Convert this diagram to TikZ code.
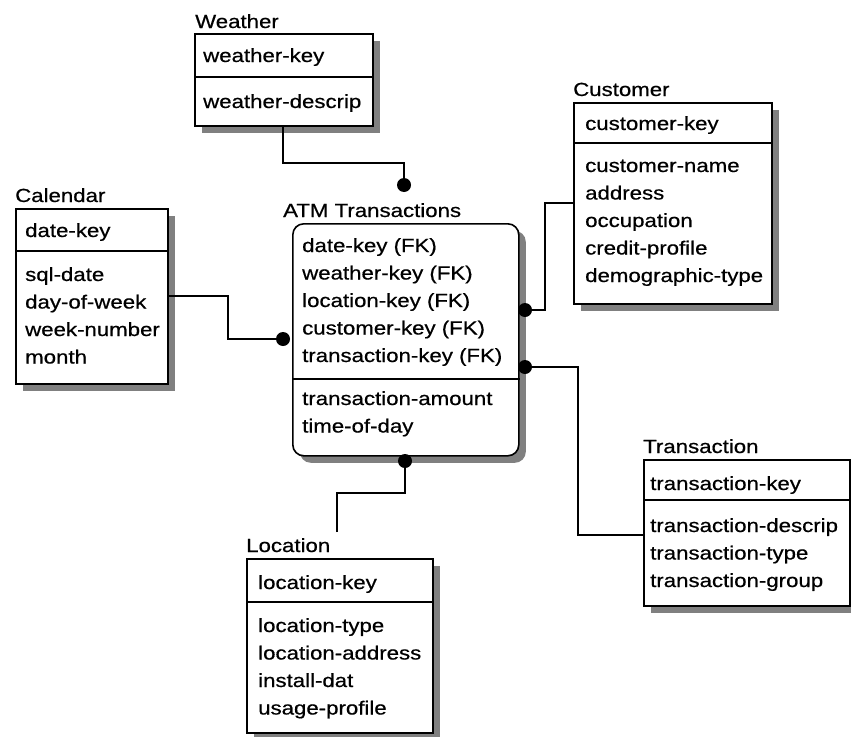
\documentclass[tikz,border=0pt]{standalone}
\usepackage{fontspec}
\setmainfont{Liberation Sans}[FakeStretch=1.17,FakeBold=0.6]
\usetikzlibrary{shadows}
\begin{document}
\begin{tikzpicture}[x=1pt,y=-1pt,font=\fontsize{19}{22}\selectfont]
\tikzstyle{entity}=[draw=black, line width=1.6pt, fill=white, anchor=north west, inner sep=0pt, drop shadow={shadow xshift=7pt, shadow yshift=-7pt, fill=black!50, opacity=1}]
\tikzstyle{etitle}=[anchor=base west, inner sep=0pt]
\tikzstyle{attr}=[anchor=base west, inner sep=0pt]
\tikzstyle{dot}=[circle, fill=black, inner sep=0pt, minimum size=14pt]
\tikzstyle{link}=[line width=1.4pt]
\tikzstyle{divider}=[line width=1.2pt]

\useasboundingbox (0,0) rectangle (851,736);

% Weather
\node[etitle] (weatherT) at (195,28) {Weather};
\node[entity, minimum width=178pt, minimum height=92pt] (weather) at (194,33) {};
\draw[divider] (weather.west |- 0,77) -- (weather.east |- 0,77);
\node[attr] (wkey) at (203,62) {weather-key};
\node[attr] (w0) at (203,108) {weather-descrip};

% Calendar
\node[etitle] (calT) at (15,202) {Calendar};
\node[entity, minimum width=152pt, minimum height=175pt] (cal) at (15,208) {};
\draw[divider] (cal.west |- 0,251) -- (cal.east |- 0,251);
\node[attr] (ckey) at (25,237) {date-key};
\foreach \a [count=\i from 0] in {sql-date,day-of-week,week-number,month}
  \node[attr] (cal\i) at (25,{281+27.5*\i}) {\a};

% ATM Transactions
\node[etitle] (atmT) at (283,217) {ATM Transactions};
\node[entity, rounded corners=11pt, minimum width=226pt, minimum height=232pt] (atm) at (292,223) {};
\draw[divider] (atm.west |- 0,379) -- (atm.east |- 0,379);
\foreach \a [count=\i from 0] in {date-key (FK),weather-key (FK),location-key (FK),customer-key (FK),transaction-key (FK)}
  \node[attr] (atmk\i) at (302,{252+27.5*\i}) {\a};
\foreach \a [count=\i from 0] in {transaction-amount,time-of-day}
  \node[attr] (atm\i) at (302,{405+27.5*\i}) {\a};

% Customer
\node[etitle] (custT) at (573,96) {Customer};
\node[entity, minimum width=198pt, minimum height=201pt] (cust) at (573,102) {};
\draw[divider] (cust.west |- 0,143) -- (cust.east |- 0,143);
\node[attr] (cukey) at (585,130) {customer-key};
\foreach \a [count=\i from 0] in {customer-name,address,occupation,credit-profile,demographic-type}
  \node[attr] (cust\i) at (585,{172+27.5*\i}) {\a};

% Transaction
\node[etitle] (tranT) at (643,453) {Transaction};
\node[entity, minimum width=206pt, minimum height=146pt] (tran) at (643,459) {};
\draw[divider] (tran.west |- 0,500) -- (tran.east |- 0,500);
\node[attr] (tkey) at (650,490) {transaction-key};
\foreach \a [count=\i from 0] in {transaction-descrip,transaction-type,transaction-group}
  \node[attr] (tran\i) at (650,{532+27.5*\i}) {\a};

% Location
\node[etitle] (locT) at (246,552) {Location};
\node[entity, minimum width=186pt, minimum height=174pt] (loc) at (246,558) {};
\draw[divider] (loc.west |- 0,602) -- (loc.east |- 0,602);
\node[attr] (lkey) at (258,589) {location-key};
\foreach \a [count=\i from 0] in {location-type,location-address,install-dat,usage-profile}
  \node[attr] (loc\i) at (258,{632+27.5*\i}) {\a};

% relationship ends
\node[dot] (dW) at (404,185) {};
\node[dot] (dC) at (283,339) {};
\node[dot] (dCu) at (525,310) {};
\node[dot] (dT) at (525,367) {};
\node[dot] (dL) at (405,461) {};

\coordinate (wOut) at (283,125);
\coordinate (cOut) at (167,296);
\coordinate (cuOut) at (573,203);
\coordinate (tOut) at (643,535);
\coordinate (lOut) at (337,532);

\draw[link] (wOut) -- ++(0,38) -| (dW.center);
\draw[link] (cOut) -- ++(61,0) |- (dC.center);
\draw[link] (cuOut) -- ++(-28,0) |- (dCu.center);
\draw[link] (tOut) -- ++(-65,0) |- (dT.center);
\draw[link] (lOut) -- ++(0,-39) -| (dL.center);

\end{tikzpicture}
\end{document}
